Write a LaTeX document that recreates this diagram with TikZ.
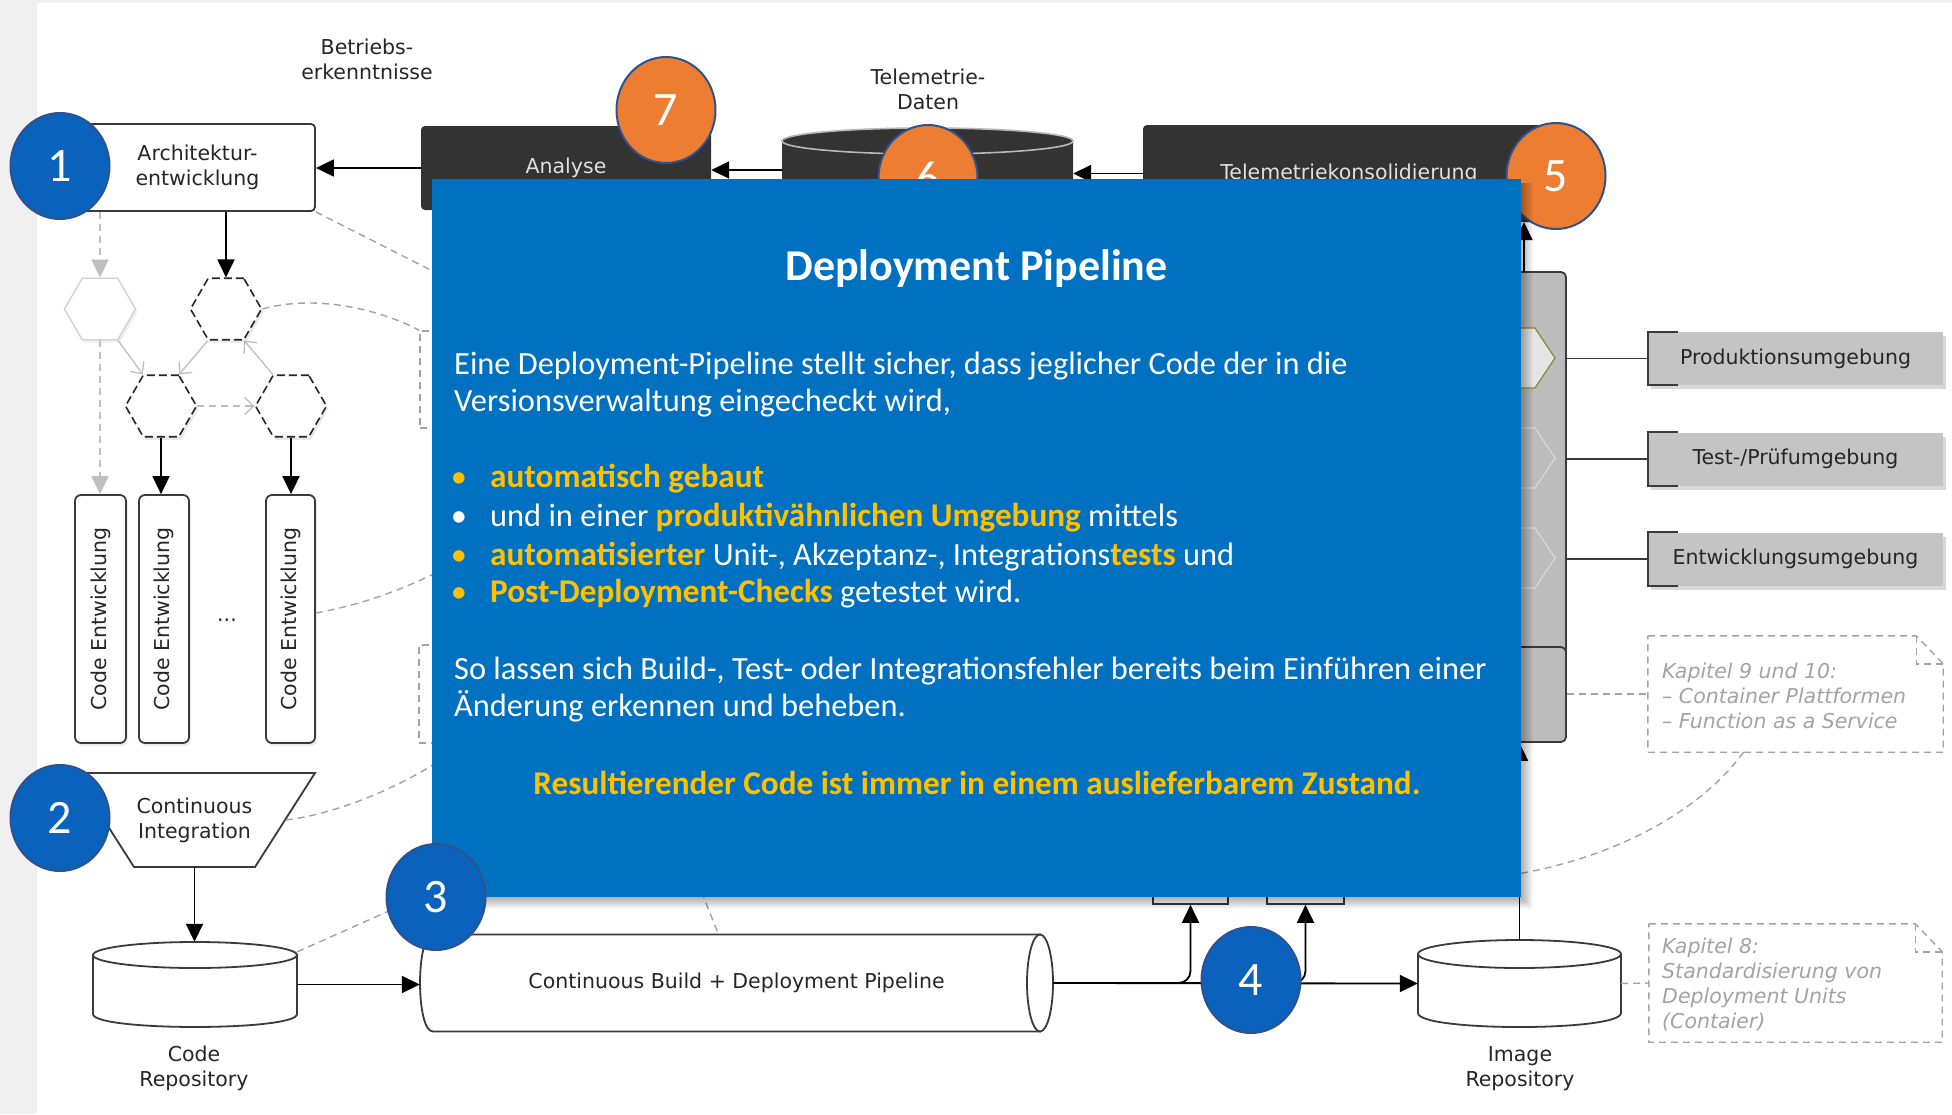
\documentclass[tikz,border=0pt]{standalone}
\usepackage{fontspec}
\setmainfont{DejaVu Sans}
\newfontfamily\slidefont{Carlito}
\usetikzlibrary{arrows.meta,shapes.geometric,shadows}

\definecolor{pagegrey}{HTML}{F0F0F0}
\definecolor{slideblue}{HTML}{0070C0}
\definecolor{slideyellow}{HTML}{FFC000}
\definecolor{markblue}{HTML}{0B62BC}
\definecolor{markorange}{HTML}{ED7D31}
\definecolor{markedge}{HTML}{2F528F}
\definecolor{darkfill}{HTML}{333333}
\definecolor{notegrey}{HTML}{A3A3A3}
\definecolor{envfill}{HTML}{C4C4C4}
\definecolor{inkline}{HTML}{3A3A3A}

\newcommand\yell[1]{{\color{slideyellow}\fontsize{33.2}{37}\selectfont\bfseries #1}}

\tikzset{
  diag/.style={font=\fontsize{20.5}{25}\selectfont, text=black!85},
  box/.style={diag, rectangle, rounded corners=4pt, draw=inkline, line width=1.8pt, fill=white, inner sep=0pt, align=center},
  darkbox/.style={diag, rectangle, rounded corners=4pt, fill=darkfill, text=white!88!black, inner sep=0pt},
  hole/.style={diag, rectangle, inner sep=0pt, align=center},
  shp/.style={draw=inkline, line width=1.8pt, fill=white},
  hexa/.style={regular polygon, regular polygon sides=6, minimum size=71pt, inner sep=0pt, fill=white,
    draw=black!85, line width=1.6pt, dash pattern=on 8pt off 4pt,
    drop shadow={opacity=0.18, shadow xshift=2pt, shadow yshift=-3pt}},
  conn/.style={draw=black, line width=1.8pt, -{Triangle[length=18pt,width=17pt]}},
  fconn/.style={draw=black!25, line width=1.6pt, dash pattern=on 7pt off 5pt, -{Triangle[length=18pt,width=17pt]}},
  hconn/.style={draw=black!25, line width=1.3pt, -{Straight Barb[length=9pt,width=17pt]}},
  annot/.style={draw=notegrey, line width=1.4pt, dash pattern=on 7pt off 5pt},
  num/.style={ellipse, draw=markedge, line width=2pt, minimum width=99pt, minimum height=106pt,
    inner sep=0pt, text=white, font=\slidefont\fontsize{48}{48}\selectfont},
  numblue/.style={num, fill=markblue},
  numorange/.style={num, fill=markorange},
  envbox/.style={diag, rectangle, fill=envfill, minimum width=295pt, minimum height=53pt, inner sep=0pt,
    drop shadow={opacity=0.3, shadow xshift=3pt, shadow yshift=-4pt}},
  notebox/.style={rectangle, inner sep=0pt},
  notetext/.style={diag, text=notegrey, font=\fontsize{20.5}{25}\selectfont\itshape, align=left, anchor=west, inner sep=0pt},
  slidetxt/.style={text=white, font=\slidefont\fontsize{32.4}{37}\selectfont, inner sep=0pt},
}

\begin{document}
\begin{tikzpicture}[x=1pt,y=-1pt]
\useasboundingbox (0,0) rectangle (1952,1114);
\fill[pagegrey] (0,0) rectangle (1952,1114);
\fill[white] (37,3) rectangle (1952,1114);

% ---------- hidden memo frames and dashed references ----------
\node[annot, notebox, minimum width=100pt, minimum height=97pt] (memo1) at (470,379.5) {};
\node[annot, notebox, minimum width=100pt, minimum height=98pt] (memo2) at (469,694) {};
\coordinate (ref1) at (470,290);
\coordinate (ref2) at (455,563);
\coordinate (ref3) at (455,750);
\coordinate (ref4) at (425,895);
\coordinate (ref5) at (688,858);
\coordinate (ref6) at (1505,876);

% ---------- top row ----------
\node[diag, align=center] (betr) at (367,59.5) {Betriebs-\\erkenntnisse};
\node[diag, align=center] (tlab) at (928,89.5) {Telemetrie-\\Daten};

\node[box, minimum width=235pt, minimum height=87pt] (arch) at (197.5,167.5) {Architektur-\\entwicklung};
\node[darkbox, minimum width=290pt, minimum height=84pt] (analyse) at (566,168) {Analyse};

% telemetry store
\fill[darkfill] (782,141) -- (782,205) .. controls (782,222.3) and (1073,222.3) .. (1073,205) -- (1073,141) -- cycle;
\filldraw[fill=darkfill, draw=white!72!black, line width=1.6pt] (927.5,141) ellipse [x radius=145.5pt, y radius=13pt];
\node[hole, minimum width=291pt, minimum height=70pt] (tdata) at (927.5,170) {};

\node[darkbox, minimum width=412pt, minimum height=97pt] (tdkons) at (1349,173.5) {Telemetriekonsolidierung};

\draw[conn] (analyse.west) -- (analyse.west -| arch.east);
\draw[conn] (tdata.west) -- (tdata.west -| analyse.east);
\draw[conn] (tdkons.west) -- (tdkons.west -| tdata.east);

% ---------- left: hexagons and code columns ----------
\draw[annot] (arch.south east) -- (ref1);

\node[regular polygon, regular polygon sides=6, minimum size=71pt, inner sep=0pt, fill=white,
  draw=black!18, line width=1.4pt, drop shadow={opacity=0.12, shadow xshift=2pt, shadow yshift=-3pt}] (hF) at (100,309) {};
\node[hexa] (hA) at (226,309) {};
\node[hexa] (hB) at (161,406) {};
\node[hexa] (hC) at (291,406) {};

\draw[annot] (hA.east) .. controls (320,293) and (385,312) .. (memo1.north west);

\draw[fconn] (arch.south -| hF.north) -- (hF.north);
\draw[conn] (arch.south -| hA.north) -- (hA.north);
\draw[hconn] (hF.-60) -- (hB.120);
\draw[hconn] (hA.-120) -- (hB.60);
\draw[hconn] (hC.120) -- (hA.-60);
\draw[hconn, dash pattern=on 7pt off 5pt] (hB.east) -- (hC.west);

\node[box, rotate=90, rounded corners=6pt, minimum width=248pt, minimum height=51pt,
  drop shadow={opacity=0.15, shadow xshift=2pt, shadow yshift=-3pt}] (code1) at (100.5,619) {Code Entwicklung};
\node[box, rotate=90, rounded corners=6pt, minimum width=248pt, minimum height=50pt,
  drop shadow={opacity=0.15, shadow xshift=2pt, shadow yshift=-3pt}] (code2) at (164,619) {Code Entwicklung};
\node[box, rotate=90, rounded corners=6pt, minimum width=248pt, minimum height=49pt,
  drop shadow={opacity=0.15, shadow xshift=2pt, shadow yshift=-3pt}] (code3) at (290.5,619) {Code Entwicklung};
\node[diag] (dots) at (227,620) {...};

\draw[fconn] (hF.south) -- (hF.south |- code1.east);
\draw[conn] (hB.south) -- (hB.south |- code2.east);
\draw[conn] (hC.south) -- (hC.south |- code3.east);

\draw[annot] ([yshift=6pt]code3.south) .. controls (360,605) and (405,590) .. (ref2);

% ---------- continuous integration ----------
\path[shp] (74,773) -- (315,773) -- (255,867) -- (134,867) -- cycle;
\node[hole, minimum width=182pt, minimum height=94pt] (ci) at (194.5,820) {Continuous\\Integration};
\draw[annot] (ci.east) .. controls (330,815) and (400,790) .. (ref3);

% code repository
\path[shp] (93,955) -- (93,1014) .. controls (93,1031.3) and (297,1031.3) .. (297,1014) -- (297,955);
\path[shp] (195,955) ellipse [x radius=102pt, y radius=13pt];
\node[hole, minimum width=204pt, minimum height=85pt] (coderepo) at (195,984.5) {};
\node[diag, align=center] (crlab) at (194,1068.5) {Code\\Repository};

\draw[conn] (ci.south) -- (ci.south |- coderepo.north);
\draw[annot] ([yshift=-10pt]coderepo.north east) -- (ref4);

% pipeline
\path[shp] (433,934.5) -- (1040,934.5) -- (1040,1031.5) -- (433,1031.5) .. controls (415.7,1031.5) and (415.7,934.5) .. (433,934.5);
\path[shp] (1040,983) ellipse [x radius=13pt, y radius=48.5pt];
\node[hole, minimum width=633pt, minimum height=97pt] (pipe) at (736.5,983) {Continuous Build + Deployment Pipeline};
\draw[conn] (coderepo.east) -- (coderepo.east -| pipe.west);
\draw[annot] (ref5) -- ([xshift=-18pt]pipe.north);

% target stages behind the pipeline output
\node[rectangle, draw=inkline, line width=1.6pt, fill=white, minimum width=75pt, minimum height=44pt] (sb1) at (1190.5,882) {};
\node[rectangle, draw=inkline, line width=1.6pt, fill=white, minimum width=77pt, minimum height=44pt] (sb2) at (1305.5,882) {};

% image repository
\path[shp] (1418,954) -- (1418,1013) .. controls (1418,1031.7) and (1621,1031.7) .. (1621,1013) -- (1621,954);
\path[shp] (1519.5,954) ellipse [x radius=101.5pt, y radius=14pt];
\node[hole, minimum width=203pt, minimum height=87pt] (imgrepo) at (1519.5,983.5) {};
\node[diag, align=center] (irlab) at (1520,1068.5) {Image\\Repository};

\draw[conn, rounded corners=12pt] (pipe.east) -| (sb1.south);
\draw[conn, rounded corners=12pt] (pipe.east) -| (sb2.south);
\draw[conn] (pipe.east) -- (imgrepo.west);

% ---------- environments ----------
\node[rectangle, rounded corners=5pt, draw=inkline, line width=1.8pt, fill=envfill!96!black,
  minimum width=126pt, minimum height=470pt] (envc) at (1503,507) {};
\draw[draw=inkline, line width=1.8pt, rounded corners=5pt] (1441,647) -- (1566,647) -- (1566,700);
\draw[draw=olive!55!gray, line width=1.3pt, fill=white!90!black] (1470,328) -- (1535,328) -- (1555,358) -- (1535,388) -- (1470,388);
\draw[draw=white!85!black, line width=1.1pt] (1470,428) -- (1535,428) -- (1555,458) -- (1535,488) -- (1470,488);
\draw[draw=white!85!black, line width=1.1pt] (1470,528) -- (1535,528) -- (1555,558) -- (1535,588) -- (1470,588);

\draw[conn] (imgrepo.north) -- (imgrepo.north |- envc.south);
\coordinate (upx) at (1524,272);
\draw[conn] (upx) -- (upx |- tdkons.south);

\node[envbox] (env1) at (1795.5,358.5) {Produktionsumgebung};
\node[envbox] (env2) at (1795.5,459) {Test-/Prüfumgebung};
\node[envbox] (env3) at (1795.5,559) {Entwicklungsumgebung};
\foreach \e in {env1,env2,env3}{
  \draw[draw=inkline, line width=1.8pt] ([xshift=30pt]\e.north west) -- (\e.north west) -- (\e.south west) -- ([xshift=30pt]\e.south west);
  \draw[draw=inkline, line width=1.5pt] (envc.east |- \e.west) -- (\e.west);
}

% ---------- notes ----------
\node[notebox, minimum width=295pt, minimum height=116pt] (n1) at (1795.5,694) {};
\node[notebox, minimum width=293pt, minimum height=118pt] (n2) at (1795.5,983) {};
\foreach \n in {n1,n2}{
  \draw[annot, fill=white] (\n.north west) -- ([xshift=-27pt]\n.north east) -- ([yshift=-28pt]\n.north east) -- (\n.south east) -- (\n.south west) -- cycle;
  \draw[annot] ([xshift=-27pt]\n.north east) -- ++(0,28) -- ([yshift=-28pt]\n.north east);
}
\node[notetext] (n1t) at (1662,696) {Kapitel 9 und 10:\\– Container Plattformen\\– Function as a Service};
\node[notetext] (n2t) at (1662,984.5) {Kapitel 8:\\Standardisierung von\\Deployment Units\\(Contaier)};
\draw[annot] (n1.west -| envc.east) -- (n1.west);
\draw[annot] (imgrepo.east) -- (n2.west);
\draw[annot] ([xshift=-52pt]n1.south) .. controls (1700,812) and (1612,860) .. (ref6);

% ---------- step markers ----------
\node[numblue] (m1) at (60,166) {1};
\node[numblue] (m2) at (60,818) {2};
\node[numblue] (m4) at (1251,980) {4};
\node[numorange] (m5) at (1556,176) {5};
\node[numorange] (m6) at (928,178) {6};
\node[numorange] (m7) at (666,110) {7};

% ---------- info panel ----------
\foreach \k in {1,...,12}
  \fill[black, opacity=0.028] (436,183) rectangle (1521+\k,897+\k);
\node[rectangle, fill=slideblue, minimum width=1089pt, minimum height=718pt, inner sep=0pt] (info) at (976.5,538) {};

\node[numblue] (m3) at (436,897) {3};

\node[slidetxt, anchor=base, font=\slidefont\fontsize{44}{50}\selectfont\bfseries] (t0) at (976.5,280) {Deployment Pipeline};
\node[slidetxt, anchor=base west] (t1) at (454,374) {Eine Deployment-Pipeline stellt sicher, dass jeglicher Code der in die};
\node[slidetxt, anchor=base west] (t2) at (454,411) {Versionsverwaltung eingecheckt wird,};
\node[slidetxt, anchor=base, text=slideyellow] (b1) at (459,487) {•};
\node[slidetxt, anchor=base west] (t3) at (490,487) {\yell{automatisch gebaut}};
\node[slidetxt, anchor=base] (b2) at (459,526) {•};
\node[slidetxt, anchor=base west] (t4) at (490,526) {und in einer \yell{produktivähnlichen Umgebung} mittels};
\node[slidetxt, anchor=base, text=slideyellow] (b3) at (459,565) {•};
\node[slidetxt, anchor=base west] (t5) at (490,565) {\yell{automatisierter} Unit-, Akzeptanz-, Integrations\yell{tests} und};
\node[slidetxt, anchor=base, text=slideyellow] (b4) at (459,602) {•};
\node[slidetxt, anchor=base west] (t6) at (490,602) {\yell{Post-Deployment-Checks} getestet wird.};
\node[slidetxt, anchor=base west] (t7) at (454,679) {So lassen sich Build-, Test- oder Integrationsfehler bereits beim Einführen einer};
\node[slidetxt, anchor=base west] (t8) at (454,716) {Änderung erkennen und beheben.};
\node[slidetxt, anchor=base] (t9) at (977,794) {\yell{Resultierender Code ist immer in einem auslieferbarem Zustand.}};
\end{tikzpicture}
\end{document}
